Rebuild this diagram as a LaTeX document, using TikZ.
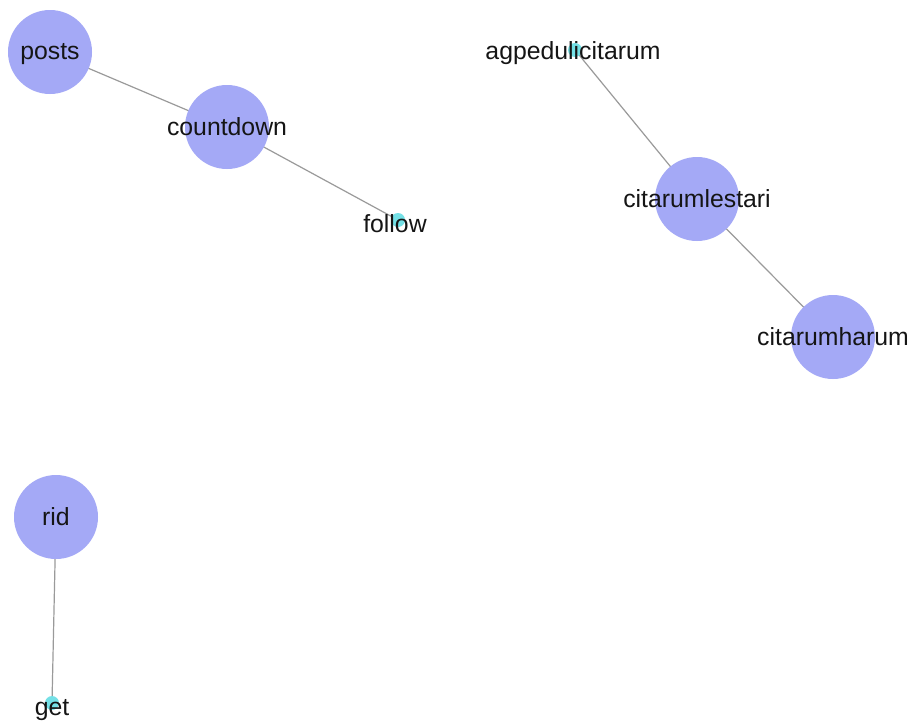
\documentclass[tikz,border=0pt]{standalone}
\usepackage{fontspec}
\setmainfont{Liberation Sans}
\usetikzlibrary{backgrounds}
\definecolor{hub}{HTML}{A4A9F6}
\definecolor{leaf}{HTML}{74E0E6}
\definecolor{edgegray}{HTML}{9A9A9A}
\definecolor{ink}{HTML}{151515}
\tikzset{
  hubnode/.style={circle, fill=hub, draw=none, minimum size=84pt, inner sep=0pt},
  leafnode/.style={circle, fill=leaf, draw=none, minimum size=14pt, inner sep=0pt},
  lbl/.style={text=ink, font=\fontsize{24.8pt}{26pt}\selectfont, inner sep=0pt, anchor=center},
  link/.style={draw=edgegray, line width=1.2pt}
}
\begin{document}
\begin{tikzpicture}[x=1pt, y=-1pt]
  \useasboundingbox (0,0) rectangle (910,720);

  % component: posts - countdown - follow
  \node[hubnode]  (posts)     at (50,52)   {};
  \node[hubnode]  (countdown) at (227,127) {};
  \node[leafnode] (follow)    at (398,220) {};

  % component: agpedulicitarum - citarumlestari - citarumharum
  \node[leafnode] (agpeduli)  at (575,50)  {};
  \node[hubnode]  (lestari)   at (697,199) {};
  \node[hubnode]  (harum)     at (833,337) {};

  % component: rid - get
  \node[hubnode]  (rid)       at (56,517)  {};
  \node[leafnode] (get)       at (52,703)  {};

  % white canvas and edges, beneath the nodes
  \begin{scope}[on background layer]
    \fill[white] (0,0) rectangle (910,720);
    \draw[link] (posts.center) -- (countdown.center);
    \draw[link] (countdown.center) -- (follow.center);
    \draw[link] (agpeduli.center) -- (lestari.center);
    \draw[link] (lestari.center) -- (harum.center);
    \draw[link] (rid.center) -- (get.center);
  \end{scope}

  % labels
  \node[lbl] (tposts)     at ([yshift=-2pt]posts)     {posts};
  \node[lbl] (tcountdown) at (countdown)              {countdown};
  \node[lbl] (tfollow)    at ([xshift=-3pt,yshift=-4pt]follow) {follow};
  \node[lbl] (tagpeduli)  at ([xshift=-2pt,yshift=-3pt]agpeduli) {agpedulicitarum};
  \node[lbl] (tlestari)   at (lestari)                {citarumlestari};
  \node[lbl] (tharum)     at (harum)                  {citarumharum};
  \node[lbl] (trid)       at (rid)                    {rid};
  \node[lbl] (tget)       at ([yshift=-7pt]get)       {get};
\end{tikzpicture}
\end{document}
